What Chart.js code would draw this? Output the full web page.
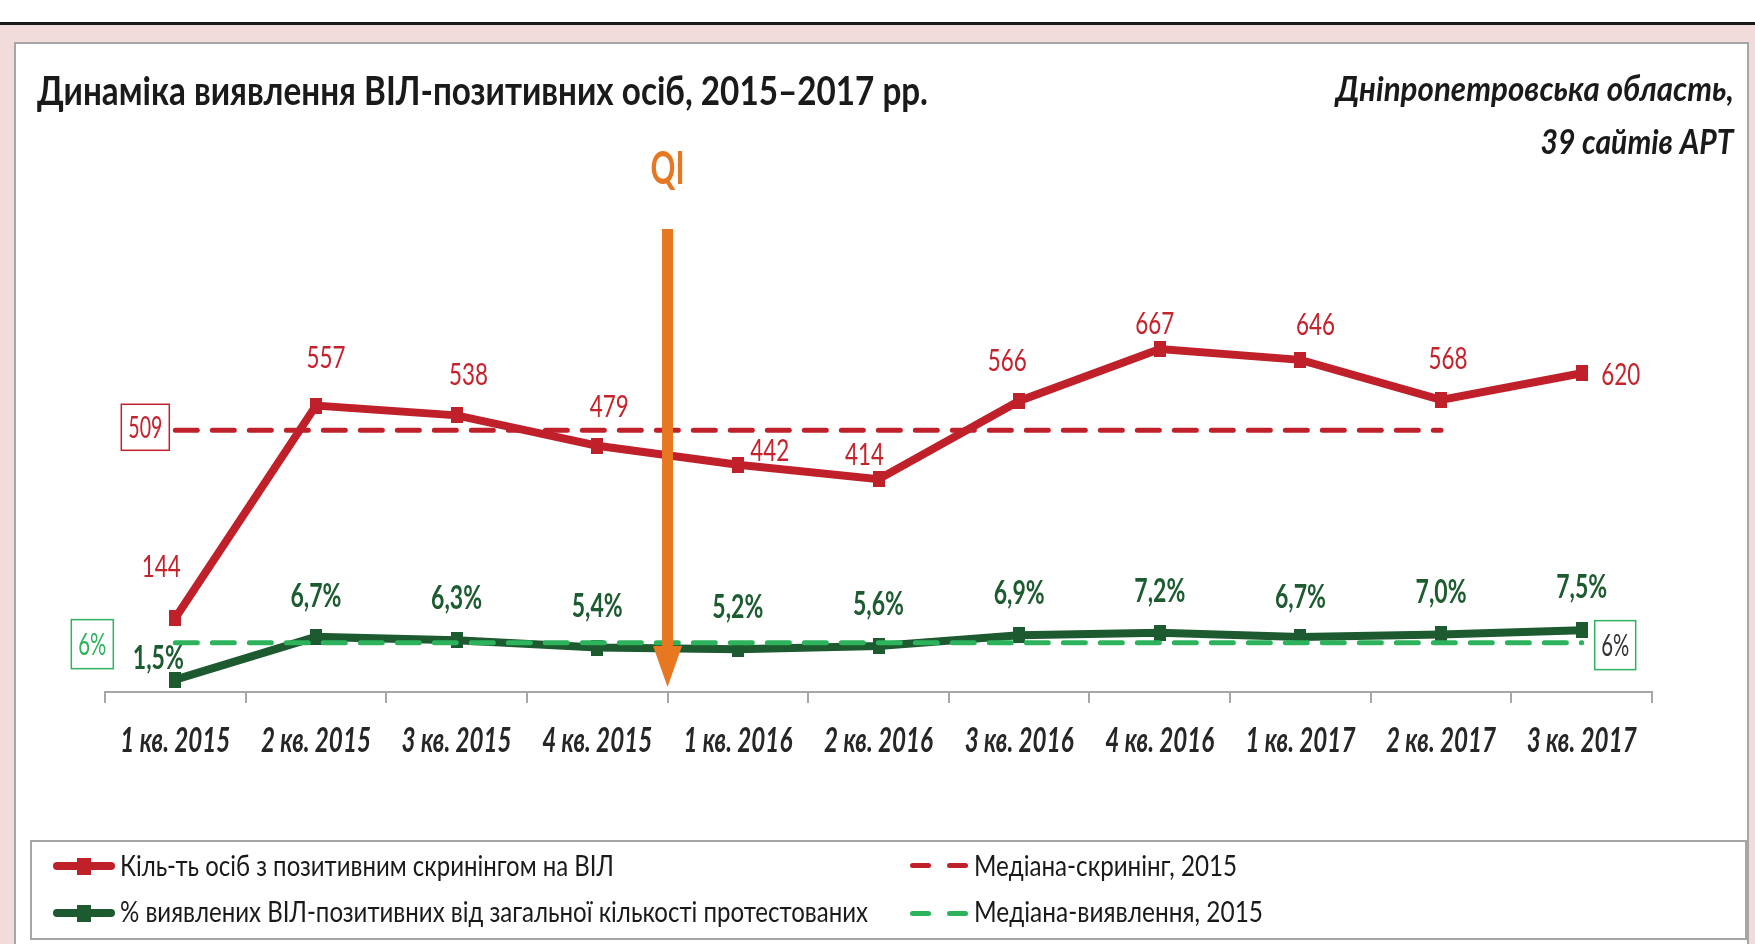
<!DOCTYPE html>
<html lang="uk">
<head>
<meta charset="utf-8">
<title>Динаміка виявлення ВІЛ-позитивних осіб</title>
<script src="https://cdn.jsdelivr.net/npm/chart.js@4.4.1/dist/chart.umd.min.js"></script>
<style>
  html, body { margin: 0; padding: 0; background: #fff; }
  #page { position: relative; width: 1755px; height: 944px; overflow: hidden; background: #fff; }
  .topline { position: absolute; left: 0; top: 22px; width: 1755px; height: 3px; background: #1a1a1a; }
  .band { position: absolute; left: 0; top: 25px; width: 1755px; height: 919px; background: #f2dcdb; }
  .panel { position: absolute; left: 14px; top: 42px; width: 1731px; height: 920px; background: #fff;
           border: 2px solid #a6a6a6; }
  .legendbox { position: absolute; left: 30px; top: 840px; width: 1713px; height: 96px;
               border: 2px solid #a6a6a6; background: #fff; }
  canvas { position: absolute; left: 0; top: 0; }
  .txt { position: absolute; white-space: nowrap; line-height: 1; }
  .mk { position: absolute; }
</style>
</head>
<body>
<div id="page">
  <div class="topline"></div>
  <div class="band"></div>
  <div class="panel"></div>
  <div class="legendbox"></div>

  <canvas id="chart" width="1755" height="944"></canvas>

  <div id="title" class="txt" style="color:#1a1a1a">Динаміка виявлення ВІЛ-позитивних осіб, 2015–2017 рр.</div>
  <div id="sub1" class="txt" style="color:#1a1a1a">Дніпропетровська область,</div>
  <div id="sub2" class="txt" style="color:#1a1a1a">39 сайтів АРТ</div>

  <!-- legend markers -->
  <div class="mk" style="left:53px;top:862px;width:62px;height:8px;border-radius:4px;background:#c0202a"></div>
  <div class="mk" style="left:77px;top:858px;width:14px;height:17px;background:#c0202a"></div>
  <div class="mk" style="left:53px;top:909px;width:62px;height:8px;border-radius:4px;background:#1e5a2f"></div>
  <div class="mk" style="left:77px;top:905px;width:14px;height:17px;background:#1e5a2f"></div>
  <div class="mk" style="left:910px;top:863px;width:21px;height:5px;border-radius:3px;background:#c0202a"></div>
  <div class="mk" style="left:947px;top:863px;width:21px;height:5px;border-radius:3px;background:#c0202a"></div>
  <div class="mk" style="left:910px;top:911px;width:21px;height:5px;border-radius:3px;background:#2cb35c"></div>
  <div class="mk" style="left:947px;top:911px;width:21px;height:5px;border-radius:3px;background:#2cb35c"></div>

  <div id="leg1" class="txt" style="color:#1a1a1a">Кіль-ть осіб з позитивним скринінгом на ВІЛ</div>
  <div id="leg2" class="txt" style="color:#1a1a1a">% виявлених ВІЛ-позитивних від загальної кількості протестованих</div>
  <div id="leg3" class="txt" style="color:#1a1a1a">Медіана-скринінг, 2015</div>
  <div id="leg4" class="txt" style="color:#1a1a1a">Медіана-виявлення, 2015</div>
</div>

<script>
// Data
const categories = ['1 кв. 2015', '2 кв. 2015', '3 кв. 2015', '4 кв. 2015', '1 кв. 2016', '2 кв. 2016',
                    '3 кв. 2016', '4 кв. 2016', '1 кв. 2017', '2 кв. 2017', '3 кв. 2017'];
const screenedCount = [144, 557, 538, 479, 442, 414, 566, 667, 646, 568, 620];
const detectedPct = [1.5, 6.7, 6.3, 5.4, 5.2, 5.6, 6.9, 7.2, 6.7, 7.0, 7.5];
const screenMedian = [509, 509, 509, 509, 509, 509, 509, 509, 509, 509, null];
const detectMedian = [6, 6, 6, 6, 6, 6, 6, 6, 6, 6, 6];
const screenMedianLabel = '509';
const detectMedianLabel = '6%';

const RED = '#c0202a';
const RED_TEXT = '#c5222c';
const GREEN = '#1e5a2f';
const GREEN_TEXT = '#1d5c30';
const LIGHT_GREEN = '#2cb35c';
const ORANGE = '#e87722';
const FONT = 'Lato, "Open Sans", "Noto Sans", sans-serif';

const measureCtx = document.createElement('canvas').getContext('2d');

// put an html text so its baseline and width match the reference
function placeText(id, o) {
  const el = document.getElementById(id);
  const font = `${o.style || 'normal'} ${o.weight || 400} ${o.size}px ${FONT}`;
  el.style.font = font;
  el.style.lineHeight = '1';
  measureCtx.font = font;
  const m = measureCtx.measureText(el.textContent);
  const A = m.fontBoundingBoxAscent, D = m.fontBoundingBoxDescent;
  el.style.top = (o.baseline - ((o.size - (A + D)) / 2 + A)) + 'px';
  const k = o.width / m.width;
  if (o.right !== undefined) {
    el.style.right = (1755 - o.right) + 'px';
    el.style.transformOrigin = 'right center';
  } else {
    el.style.left = o.left + 'px';
    el.style.transformOrigin = 'left center';
  }
  el.style.transform = `scaleX(${k})`;
}

placeText('title', { left: 37, baseline: 105, size: 40, weight: 700, width: 891 });
placeText('sub1', { right: 1734, baseline: 101, size: 35, weight: 700, style: 'italic', width: 398 });
placeText('sub2', { right: 1734, baseline: 154, size: 35, weight: 700, style: 'italic', width: 193 });
placeText('leg1', { left: 120, baseline: 876, size: 29, width: 494 });
placeText('leg2', { left: 120, baseline: 922, size: 29, width: 748 });
placeText('leg3', { left: 974, baseline: 876, size: 29, width: 263 });
placeText('leg4', { left: 974, baseline: 922, size: 29, width: 289 });

// rectangular markers like in the source picture
function markerImage(color) {
  const c = document.createElement('canvas');
  c.width = 12; c.height = 16;
  const g = c.getContext('2d');
  g.fillStyle = color;
  g.fillRect(0, 0, 12, 16);
  return c;
}

// label offsets from the point (x, y), in px
const redLabelShift = [[-14, -52], [10, -49], [12, -41], [12, -40], [32, -15], [-14, -25],
                       [-12, -41], [-5, -26], [15, -36], [7, -42], [39, 1]];
const greenLabelShift = [[-17, -23], [0, -42], [0, -43], [0, -43], [0, -43], [0, -43],
                         [0, -43], [0, -43], [0, -41], [0, -43], [0, -44]];

function squeeze(ctx, font, sample, target) {
  ctx.font = font;
  return target / ctx.measureText(sample).width;
}

function drawText(ctx, text, x, y, font, color, k, align) {
  ctx.save();
  ctx.font = font;
  ctx.fillStyle = color;
  ctx.textAlign = align || 'center';
  ctx.textBaseline = 'alphabetic';
  ctx.translate(x, y);
  ctx.scale(k, 1);
  ctx.fillText(text, 0, 0);
  ctx.restore();
}

// text placed by the middle of its digits
function drawMid(ctx, text, x, cy, font, color, k, align) {
  ctx.font = font;
  const asc = ctx.measureText('0').actualBoundingBoxAscent;
  drawText(ctx, text, x, cy + asc / 2, font, color, k, align);
}

const annotate = {
  id: 'annotate',
  afterDraw(chart) {
    const ctx = chart.ctx;
    const x = chart.scales.x;

    // category labels
    const xFont = `italic 700 34px ${FONT}`;
    const kx = squeeze(ctx, xFont, '1 кв. 2015', 110);
    x.ticks.forEach((t, i) => {
      drawText(ctx, x.getLabelForValue(t.value), x.getPixelForTick(i), 752, xFont, '#262626', kx);
    });

    // QI arrow between 4 кв. 2015 and 1 кв. 2016
    const ax = (x.getPixelForValue(3) + x.getPixelForValue(4)) / 2;
    ctx.save();
    ctx.fillStyle = ORANGE;
    ctx.fillRect(ax - 5.5, 229, 11, 419);
    ctx.beginPath();
    ctx.moveTo(ax - 14.5, 646);
    ctx.lineTo(ax + 14.5, 646);
    ctx.lineTo(ax, 687);
    ctx.closePath();
    ctx.fill();
    ctx.restore();
    const qFont = `700 46px ${FONT}`;
    drawText(ctx, 'QI', ax, 184, qFont, ORANGE, squeeze(ctx, qFont, 'QI', 34));

    // value labels
    const redMeta = chart.getDatasetMeta(2);
    const redFont = `400 31px ${FONT}`;
    const kr = squeeze(ctx, redFont, '144', 39);
    redMeta.data.forEach((p, i) => {
      const s = redLabelShift[i];
      drawMid(ctx, String(screenedCount[i]), p.x + s[0], p.y + s[1], redFont, RED_TEXT, kr);
    });
    const greenMeta = chart.getDatasetMeta(3);
    const greenFont = `700 32px ${FONT}`;
    const kg = squeeze(ctx, greenFont, '6,7%', 51);
    greenMeta.data.forEach((p, i) => {
      const s = greenLabelShift[i];
      const txt = detectedPct[i].toFixed(1).replace('.', ',') + '%';
      drawMid(ctx, txt, p.x + s[0], p.y + s[1], greenFont, GREEN_TEXT, kg);
    });

    // median value boxes
    const rm = chart.getDatasetMeta(0).data[0];
    const gm = chart.getDatasetMeta(1).data;
    const gFirst = gm[0], gLast = gm[gm.length - 1];
    ctx.save();
    ctx.lineWidth = 1.5;
    ctx.fillStyle = '#fff';
    ctx.strokeStyle = RED;
    ctx.fillRect(rm.x - 54, rm.y - 26, 48, 46);
    ctx.strokeRect(rm.x - 54, rm.y - 26, 48, 46);
    ctx.strokeStyle = LIGHT_GREEN;
    ctx.fillRect(gFirst.x - 104, gFirst.y - 23, 42, 49);
    ctx.strokeRect(gFirst.x - 104, gFirst.y - 23, 42, 49);
    ctx.fillRect(gLast.x + 13, gLast.y - 22, 41, 49);
    ctx.strokeRect(gLast.x + 13, gLast.y - 22, 41, 49);
    ctx.restore();
    const boxFont = `400 30px ${FONT}`;
    drawMid(ctx, screenMedianLabel, rm.x - 30, rm.y - 3, boxFont, RED_TEXT, squeeze(ctx, boxFont, '509', 34));
    const pFont = `400 30px ${FONT}`;
    const kp = squeeze(ctx, pFont, '6%', 28);
    drawMid(ctx, detectMedianLabel, gFirst.x - 83, gFirst.y + 1.5, pFont, LIGHT_GREEN, kp);
    drawMid(ctx, detectMedianLabel, gLast.x + 33.5, gLast.y + 2.5, pFont, '#333333', kp);
  }
};

new Chart(document.getElementById('chart'), {
  type: 'line',
  data: {
    labels: categories,
    datasets: [
      {
        label: 'Медіана-скринінг, 2015',
        data: screenMedian,
        yAxisID: 'y',
        borderColor: RED,
        borderWidth: 5,
        borderDash: [22, 15],
        borderCapStyle: 'round',
        pointRadius: 0,
        spanGaps: false,
        order: 1
      },
      {
        label: 'Медіана-виявлення, 2015',
        data: detectMedian,
        yAxisID: 'y1',
        borderColor: LIGHT_GREEN,
        borderWidth: 5,
        borderDash: [22, 15],
        borderCapStyle: 'round',
        pointRadius: 0,
        order: 0
      },
      {
        label: 'Кіль-ть осіб з позитивним скринінгом на ВІЛ',
        data: screenedCount,
        yAxisID: 'y',
        borderColor: RED,
        borderWidth: 8,
        pointStyle: markerImage(RED),
        pointRadius: 6,
        order: 2
      },
      {
        label: '% виявлених ВІЛ-позитивних від загальної кількості протестованих',
        data: detectedPct,
        yAxisID: 'y1',
        borderColor: GREEN,
        borderWidth: 8,
        pointStyle: markerImage(GREEN),
        pointRadius: 6,
        order: 3
      }
    ]
  },
  options: {
    responsive: false,
    animation: false,
    devicePixelRatio: 1,
    layout: { padding: { left: 105, right: 103, top: 75, bottom: 232 } },
    plugins: {
      legend: { display: false },
      tooltip: { enabled: false },
      title: { display: false }
    },
    scales: {
      x: {
        offset: true,
        grid: { offset: true, drawOnChartArea: false, drawTicks: true, tickLength: 11, color: '#a6a6a6', lineWidth: 2 },
        border: { display: true, color: '#a6a6a6', width: 2 },
        ticks: { display: false },
        afterFit: (s) => { s.height = 20; }
      },
      y: { display: false, min: 0, max: 1200 },
      y1: { display: false, min: 0, max: 75 }
    }
  },
  plugins: [annotate]
});
</script>
</body>
</html>
